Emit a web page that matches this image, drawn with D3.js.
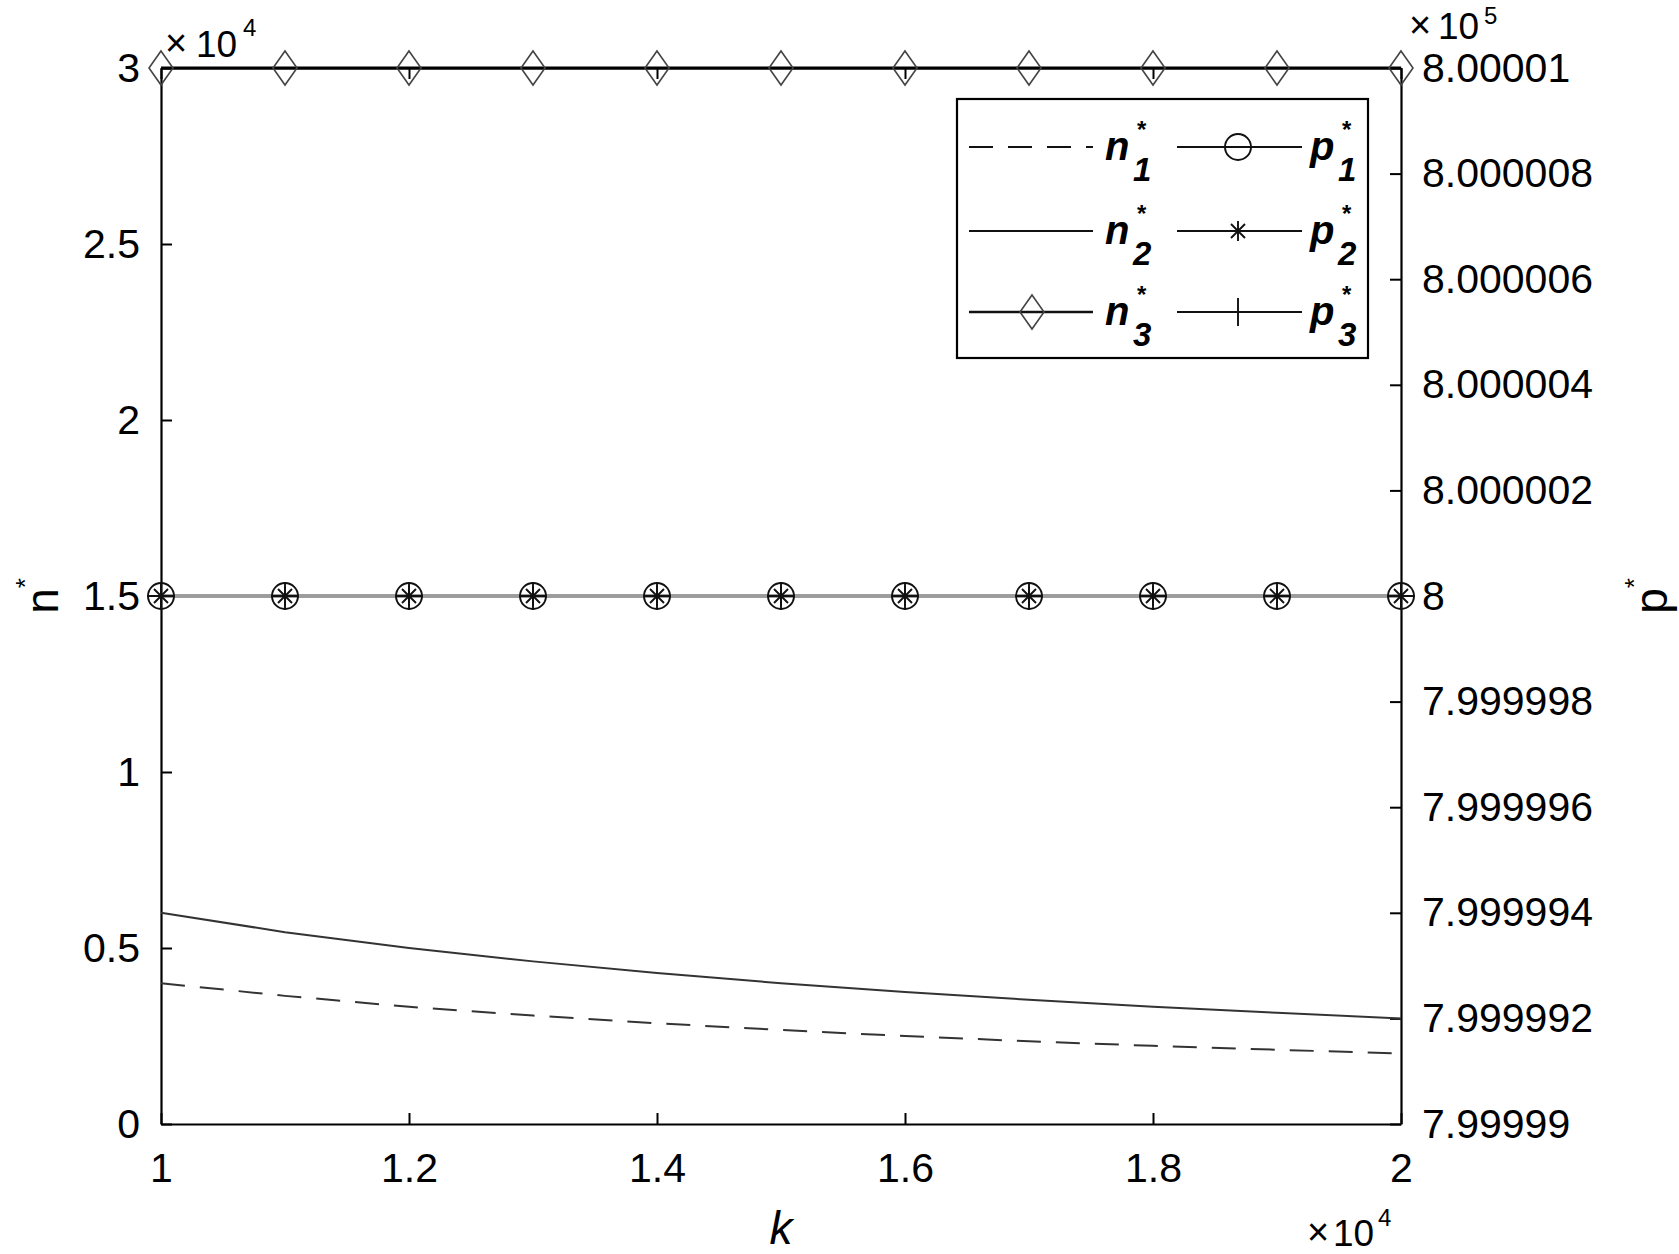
<!DOCTYPE html>
<html>
<head>
<meta charset="utf-8">
<script src="https://cdn.jsdelivr.net/npm/d3@7"></script>
<style>
  body { margin: 0; background: #fff; }
  svg text { font-family: 'Liberation Sans', Arial, sans-serif; fill: #000; }
</style>
</head>
<body>
<div id="chart"></div>
<script>
// data (k in raw units, n in raw units, p in raw units)
var kValues = [10000, 11000, 12000, 13000, 14000, 15000, 16000, 17000, 18000, 19000, 20000];
var n1Values = [4000, 3640, 3330, 3080, 2860, 2670, 2500, 2350, 2220, 2110, 2000];
var n2Values = [6000, 5450, 5000, 4620, 4290, 4000, 3750, 3530, 3330, 3160, 3000];
var n3Values = [30000, 30000, 30000, 30000, 30000, 30000, 30000, 30000, 30000, 30000, 30000];
var p1Values = [800000, 800000, 800000, 800000, 800000, 800000, 800000, 800000, 800000, 800000, 800000];
var p2Values = [800000, 800000, 800000, 800000, 800000, 800000, 800000, 800000, 800000, 800000, 800000];
var p3Values = [800000, 800000, 800000, 800000, 800000, 800000, 800000, 800000, 800000, 800000, 800000];

var xTicks = [10000, 12000, 14000, 16000, 18000, 20000];
var xTickLabels = ['1', '1.2', '1.4', '1.6', '1.8', '2'];
var leftTicks = [0, 5000, 10000, 15000, 20000, 25000, 30000];
var leftTickLabels = ['0', '0.5', '1', '1.5', '2', '2.5', '3'];
var rightTicks = [799990, 799992, 799994, 799996, 799998, 800000, 800002, 800004, 800006, 800008, 800010];
var rightTickLabels = ['7.99999', '7.999992', '7.999994', '7.999996', '7.999998', '8',
  '8.000002', '8.000004', '8.000006', '8.000008', '8.00001'];

var W = 1679, H = 1254;
var box = {left: 161, right: 1401, top: 68, bottom: 1124};

var svg = d3.select('#chart').append('svg')
  .attr('width', W)
  .attr('height', H)
  .style('display', 'block');
svg.append('rect').attr('width', W).attr('height', H).attr('fill', '#fff');

var x = d3.scaleLinear().domain([10000, 20000]).range([box.left, box.right]);
var yL = d3.scaleLinear().domain([0, 30000]).range([box.bottom, box.top]);
var yR = d3.scaleLinear().domain([799990, 800010]).range([box.bottom, box.top]);

function styleAxis(g) {
  g.attr('font-size', 41).attr('font-family', null);
  g.select('.domain').attr('stroke', '#000').attr('stroke-width', 2.2);
  g.selectAll('.tick line').attr('stroke', '#000').attr('stroke-width', 2);
  g.selectAll('.tick text').attr('fill', '#000');
}

// markers
function drawMarker(g, type, cx, cy) {
  var m = g.append('g').attr('transform', 'translate(' + cx + ',' + cy + ')')
    .attr('fill', 'none');
  if (type === 'circle') {
    m.append('circle').attr('r', 13).attr('stroke', '#111').attr('stroke-width', 1.9);
  } else if (type === 'asterisk') {
    var a = 10, d = 7;
    m.append('path')
      .attr('d', 'M' + -a + ',0H' + a + 'M0,' + -a + 'V' + a +
        'M' + -d + ',' + -d + 'L' + d + ',' + d + 'M' + -d + ',' + d + 'L' + d + ',' + -d)
      .attr('stroke', '#111').attr('stroke-width', 1.9);
  } else if (type === 'plus') {
    m.append('path').attr('d', 'M-14,0H14M0,-14V14')
      .attr('stroke', '#111').attr('stroke-width', 1.9);
  } else if (type === 'diamond') {
    m.append('path').attr('d', 'M0,-17L12,0L0,17L-12,0Z')
      .attr('stroke', '#444').attr('stroke-width', 1.6);
  }
}

var plot = svg.append('g');

var lineL = function(vals) {
  return d3.line()
    .x(function(d, i) { return x(kValues[i]); })
    .y(function(d) { return yL(d); })(vals);
};
var lineR = function(vals) {
  return d3.line()
    .x(function(d, i) { return x(kValues[i]); })
    .y(function(d) { return yR(d); })(vals);
};

// right-axis series (they all sit on top of each other)
[p1Values, p2Values, p3Values].forEach(function(vals) {
  plot.append('path').attr('d', lineR(vals))
    .attr('fill', 'none').attr('stroke', '#9c9c9c').attr('stroke-width', 3.5);
});

// left-axis series
plot.append('path').attr('d', lineL(n1Values))
  .attr('fill', 'none').attr('stroke', '#333').attr('stroke-width', 2)
  .attr('stroke-dasharray', '24,15');
plot.append('path').attr('d', lineL(n2Values))
  .attr('fill', 'none').attr('stroke', '#333').attr('stroke-width', 2);
plot.append('path').attr('d', lineL(n3Values))
  .attr('fill', 'none').attr('stroke', '#000').attr('stroke-width', 3);

// axes (box made of the four domain lines)
svg.append('g')
  .attr('transform', 'translate(0,' + box.bottom + ')')
  .call(d3.axisBottom(x).tickValues(xTicks)
    .tickFormat(function(d, i) { return xTickLabels[i]; })
    .tickSizeInner(-11).tickSizeOuter(0).tickPadding(29))
  .call(styleAxis);
svg.append('g')
  .attr('transform', 'translate(0,' + box.top + ')')
  .call(d3.axisTop(x).tickValues(xTicks).tickFormat('')
    .tickSizeInner(-11).tickSizeOuter(0))
  .call(styleAxis);
svg.append('g')
  .attr('transform', 'translate(' + box.left + ',0)')
  .call(d3.axisLeft(yL).tickValues(leftTicks)
    .tickFormat(function(d, i) { return leftTickLabels[i]; })
    .tickSizeInner(-11).tickSizeOuter(0).tickPadding(21))
  .call(styleAxis);
svg.append('g')
  .attr('transform', 'translate(' + box.right + ',0)')
  .call(d3.axisRight(yR).tickValues(rightTicks)
    .tickFormat(function(d, i) { return rightTickLabels[i]; })
    .tickSizeInner(-11).tickSizeOuter(0).tickPadding(21))
  .call(styleAxis);

// markers on top of lines and box
kValues.forEach(function(k, i) {
  drawMarker(plot, 'diamond', x(k), yL(n3Values[i]));
  drawMarker(plot, 'circle', x(k), yR(p1Values[i]));
  drawMarker(plot, 'asterisk', x(k), yR(p2Values[i]));
  drawMarker(plot, 'plus', x(k), yR(p3Values[i]));
});
plot.raise();

// exponent labels
function exponent(xTimes, xTen, xPow, base, powBase, pow) {
  svg.append('text').attr('x', xTimes).attr('y', base - 1).attr('font-size', 38)
    .attr('fill', '#444').text('\u00d7');
  svg.append('text').attr('x', xTen).attr('y', base).attr('font-size', 37).text('10');
  svg.append('text').attr('x', xPow).attr('y', powBase).attr('font-size', 24).text(pow);
}
exponent(165, 196, 243, 57, 36, '4');
exponent(1409, 1438, 1484, 39, 24, '5');
exponent(1307, 1333, 1378, 1246, 1226, '4');

// axis titles
svg.append('text')
  .attr('x', (box.left + box.right) / 2).attr('y', 1244)
  .attr('text-anchor', 'middle').attr('font-size', 46).attr('font-style', 'italic')
  .text('k');

var nLabel = svg.append('text')
  .attr('transform', 'translate(58,' + ((box.top + box.bottom) / 2) + ') rotate(-90)')
  .attr('text-anchor', 'middle').attr('font-size', 46);
nLabel.append('tspan').text('n');
nLabel.append('tspan').attr('font-size', 26).attr('dy', -24).text('*');

var pLabel = svg.append('text')
  .attr('transform', 'translate(1667,' + ((box.top + box.bottom) / 2) + ') rotate(-90)')
  .attr('text-anchor', 'middle').attr('font-size', 46);
pLabel.append('tspan').text('p');
pLabel.append('tspan').attr('font-size', 26).attr('dy', -24).text('*');

// legend
var legendNames = ['n', 'n', 'n', 'p', 'p', 'p'];
var legendIndex = ['1', '2', '3', '1', '2', '3'];
var legendMarkers = [null, null, 'diamond', 'circle', 'asterisk', 'plus'];
var legendDash = ['24,15', null, null, null, null, null];
var legendWidth = [1.8, 1.8, 2.6, 1.8, 1.8, 1.8];

var legend = svg.append('g');
legend.append('rect')
  .attr('x', 957).attr('y', 99).attr('width', 411).attr('height', 259)
  .attr('fill', '#fff').attr('stroke', '#000').attr('stroke-width', 2.2);

var rowY = [147, 231, 312];
var colX = [{x1: 969, x2: 1093, m: 1032, t: 1105}, {x1: 1177, x2: 1302, m: 1238, t: 1310}];

legendNames.forEach(function(name, i) {
  var c = colX[Math.floor(i / 3)], y = rowY[i % 3];
  legend.append('line')
    .attr('x1', c.x1).attr('x2', c.x2).attr('y1', y).attr('y2', y)
    .attr('stroke', '#111').attr('stroke-width', legendWidth[i])
    .attr('stroke-dasharray', legendDash[i]);
  if (legendMarkers[i]) drawMarker(legend, legendMarkers[i], c.m, y);
  legend.append('text')
    .attr('x', c.t).attr('y', y + 13)
    .attr('font-size', 40).attr('font-weight', 'bold').attr('font-style', 'italic')
    .text(name);
  legend.append('text')
    .attr('x', c.t + 28).attr('y', y + 34)
    .attr('font-size', 33).attr('font-weight', 'bold').attr('font-style', 'italic')
    .text(legendIndex[i]);
  legend.append('text')
    .attr('x', c.t + 32).attr('y', y - 9)
    .attr('font-size', 24).attr('font-weight', 'bold')
    .text('*');
});
</script>
</body>
</html>
